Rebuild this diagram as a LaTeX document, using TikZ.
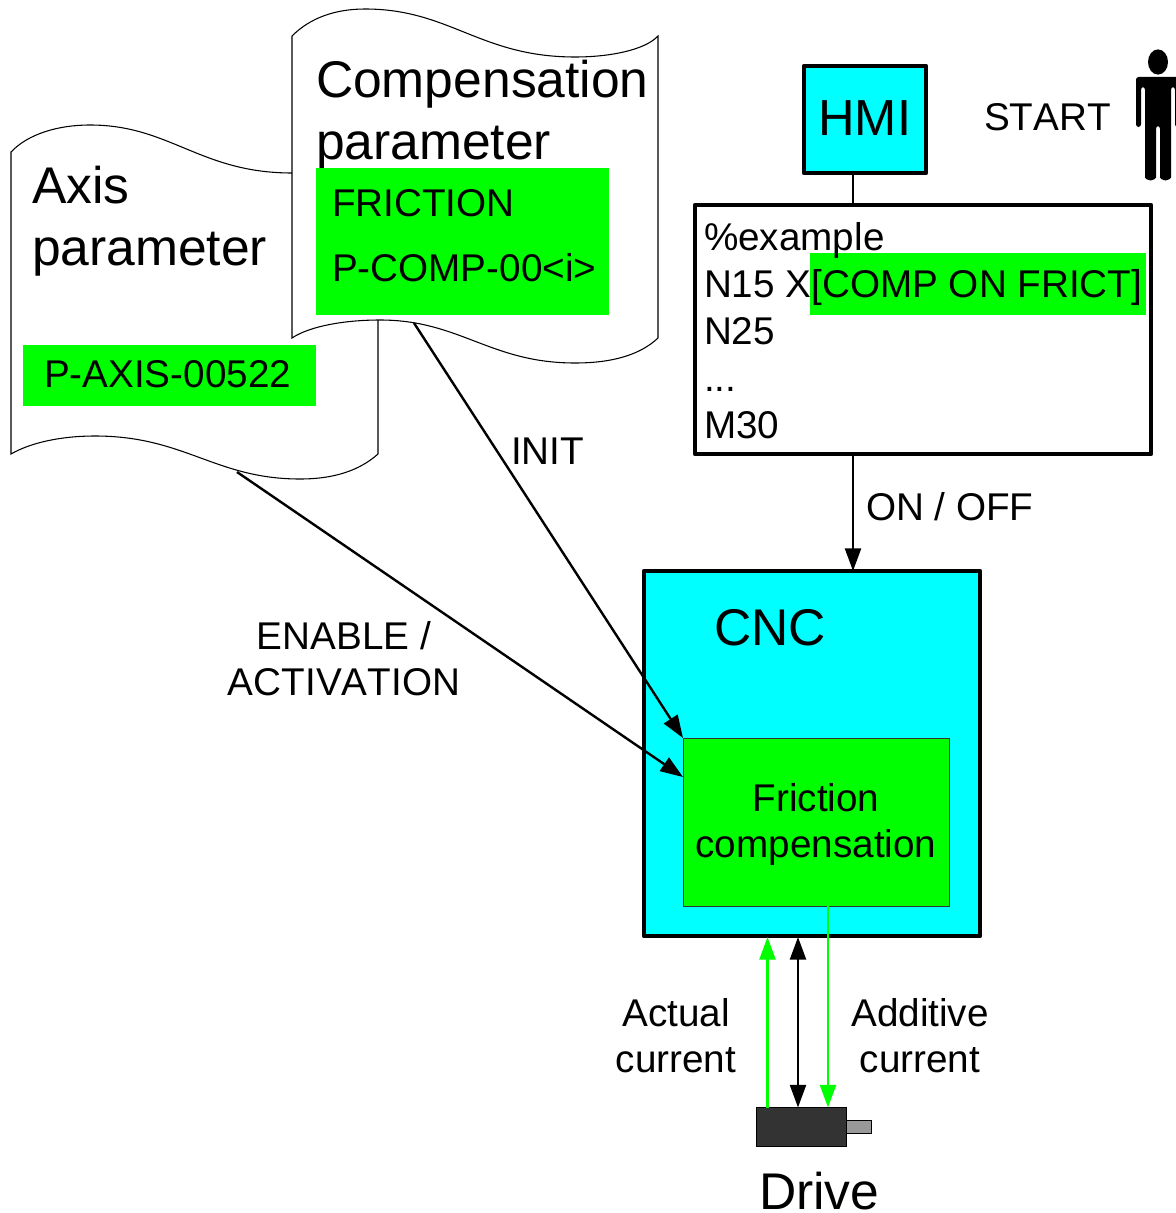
\documentclass[tikz,border=0pt]{standalone}
\usepackage{fontspec}
\setmainfont[Kerning=Off]{Liberation Sans}
\usetikzlibrary{arrows.meta}
\definecolor{cncCyan}{RGB}{0,255,255}
\definecolor{hiGreen}{RGB}{0,255,0}
\definecolor{motorDark}{RGB}{51,51,51}
\definecolor{shaftGray}{RGB}{153,153,153}
\def\u{0.75pt}
\tikzset{
  bigtext/.style={inner sep=0pt,outer sep=0pt,font=\fontsize{38.7pt}{46.2pt}\selectfont},
  midtext/.style={inner sep=0pt,outer sep=0pt,font=\fontsize{29pt}{34.2pt}\selectfont},
  progtext/.style={inner sep=0pt,outer sep=0pt,font=\fontsize{29pt}{35.1pt}\selectfont},
  sheet/.style={draw=black,fill=white,line width=0.8pt},
  hibox/.style={fill=hiGreen,draw=none,inner sep=0pt,outer sep=0pt},
  heavybox/.style={draw=black,line width=3.2pt,line join=round,inner sep=0pt,outer sep=0pt},
  thinbox/.style={draw=black!80,line width=0.5pt,inner sep=0pt,outer sep=0pt},
  conn/.style={draw=black,line width=1.8pt},
  flow/.style={conn,-{Triangle[length=17pt,width=12pt]}},
  flowboth/.style={conn,{Triangle[length=17pt,width=12pt]}-{Triangle[length=17pt,width=12pt]}},
  gflow/.style={draw=hiGreen,line width=1.8pt,-{Triangle[length=17pt,width=12pt]}},
}
\begin{document}
\begin{tikzpicture}[x=0.75pt,y=-0.75pt]
\useasboundingbox (0,0) rectangle (1176,1213);
\clip (0,0) rectangle (1176,1213);

% Axis parameter sheet
\draw[sheet] (11,152) .. controls (28,134) and (58,125) .. (90,125)
  .. controls (170,125) and (200,173) .. (292,173)
  .. controls (325,173) and (360,170) .. (378,152)
  -- (378,454) .. controls (360,470) and (335,479) .. (300,479)
  .. controls (215,479) and (185,436) .. (95,436)
  .. controls (60,436) and (30,443) .. (11,454) -- cycle;
\node[bigtext,anchor=base west,align=left] (axistitle) at (32,265) {Axis\\parameter};

% Compensation parameter sheet
\draw[sheet] (292,36) .. controls (310,18) and (335,9) .. (365,9)
  .. controls (450,9) and (480,57) .. (575,57)
  .. controls (610,57) and (645,50) .. (658,36)
  -- (658,338) .. controls (640,355) and (612,363) .. (575,363)
  .. controls (490,363) and (460,320) .. (380,320)
  .. controls (345,320) and (310,326) .. (292,338) -- cycle;
\node[bigtext,anchor=base west,align=left] (comptitle) at (316,159) {Compensation\\parameter};

\node[hibox,minimum width=293*\u,minimum height=147*\u] (compbox) at (462.5,241.5) {};
\node[midtext,anchor=base west] (friction) at (332,216) {FRICTION};
\node[midtext,anchor=base west] (pcomp) at (332,281) {P-COMP-00<i>};
\node[hibox,minimum width=293*\u,minimum height=61*\u] (axisbox) at (169.5,375.5) {};
\node[midtext,anchor=base west] (paxis) at (44,387) {P-AXIS-00522};

% HMI and part program
\node[heavybox,fill=cncCyan,minimum width=122*\u,minimum height=107*\u] (hmi) at (865,119.5) {};
\node[font=\fontsize{38pt}{45pt}\selectfont,inner sep=0pt,anchor=base west] (hmitext) at (818,135) {HMI};
\node[midtext,anchor=base west] (start) at (984,130) {START};

\node[heavybox,fill=white,minimum width=456*\u,minimum height=249*\u] (prog) at (923,329.5) {};
\node[hibox,minimum width=336*\u,minimum height=62*\u] (proghi) at (978,284) {};
\node[progtext,anchor=base west,align=left] (progtext) at (704,438) {\%example\\N15 X[COMP ON FRICT]\\N25\\...\\M30};

% Person
\fill[black] (1158,62) ellipse [x radius=10,y radius=12.6];
\fill[black,rounded corners=2pt] (1136,127) -- (1136,77) -- (1180,77) -- (1180,127) -- (1175,127) -- (1175,87) -- (1171,87)
  -- (1171,175) arc[start angle=0,end angle=180,radius=5.5] -- (1160,126) -- (1156,126)
  -- (1156,175) arc[start angle=0,end angle=180,radius=5.5] -- (1145,87) -- (1141,87) -- (1141,127) -- cycle;

% CNC
\node[heavybox,fill=cncCyan,minimum width=336*\u,minimum height=365*\u] (cnc) at (812,753.5) {};
\node[bigtext,anchor=base west] (cnctext) at (714,645) {CNC};
\node[thinbox,fill=hiGreen,minimum width=266*\u,minimum height=168*\u] (fric) at (816,822) {};
\node[midtext,anchor=base,align=center] (frictext) at (816,857) {Friction\\compensation};

% Drive
\node[draw=black,line width=0.8pt,fill=shaftGray,inner sep=0pt,outer sep=0pt,minimum width=26*\u,minimum height=13*\u] (shaft) at (858.5,1127) {};
\node[draw=black,line width=0.8pt,fill=motorDark,inner sep=0pt,outer sep=0pt,minimum width=90*\u,minimum height=39*\u] (motor) at (801.5,1127) {};
\node[bigtext,anchor=base west] (drive) at (759,1209) {Drive};

% Labels
\node[midtext,anchor=base west] (onoff) at (866,520) {ON / OFF};
\node[midtext,anchor=base west] (init) at (511,464) {INIT};
\node[midtext,anchor=base,align=center] (enable) at (344,695) {ENABLE /\\ACTIVATION};
\node[midtext,anchor=base,align=center] (actual) at (676,1072) {Actual\\current};
\node[midtext,anchor=base,align=center] (additive) at (920,1072) {Additive\\current};

% Connector ends
\coordinate (compout) at (414,323);
\coordinate (axisout) at (237,472);
\coordinate (fricwest) at (683,777);
\coordinate (hmix) at (853,173);
\coordinate (actualx) at (767.5,937);
\coordinate (bothx) at (798,937);
\coordinate (addx) at (828,906);

% Connectors
\draw[conn] (hmix) -- (hmix |- prog.north);
\draw[flow] (hmix |- prog.south) -- (hmix |- cnc.north);
\draw[flow] (compout) -- (fric.north west);
\draw[flow] (axisout) -- (fricwest);
\draw[gflow] (actualx |- motor.north) -- (actualx);
\draw[flowboth] (bothx) -- (bothx |- motor.north);
\draw[gflow] (addx) -- (addx |- motor.north);
\end{tikzpicture}
\end{document}
